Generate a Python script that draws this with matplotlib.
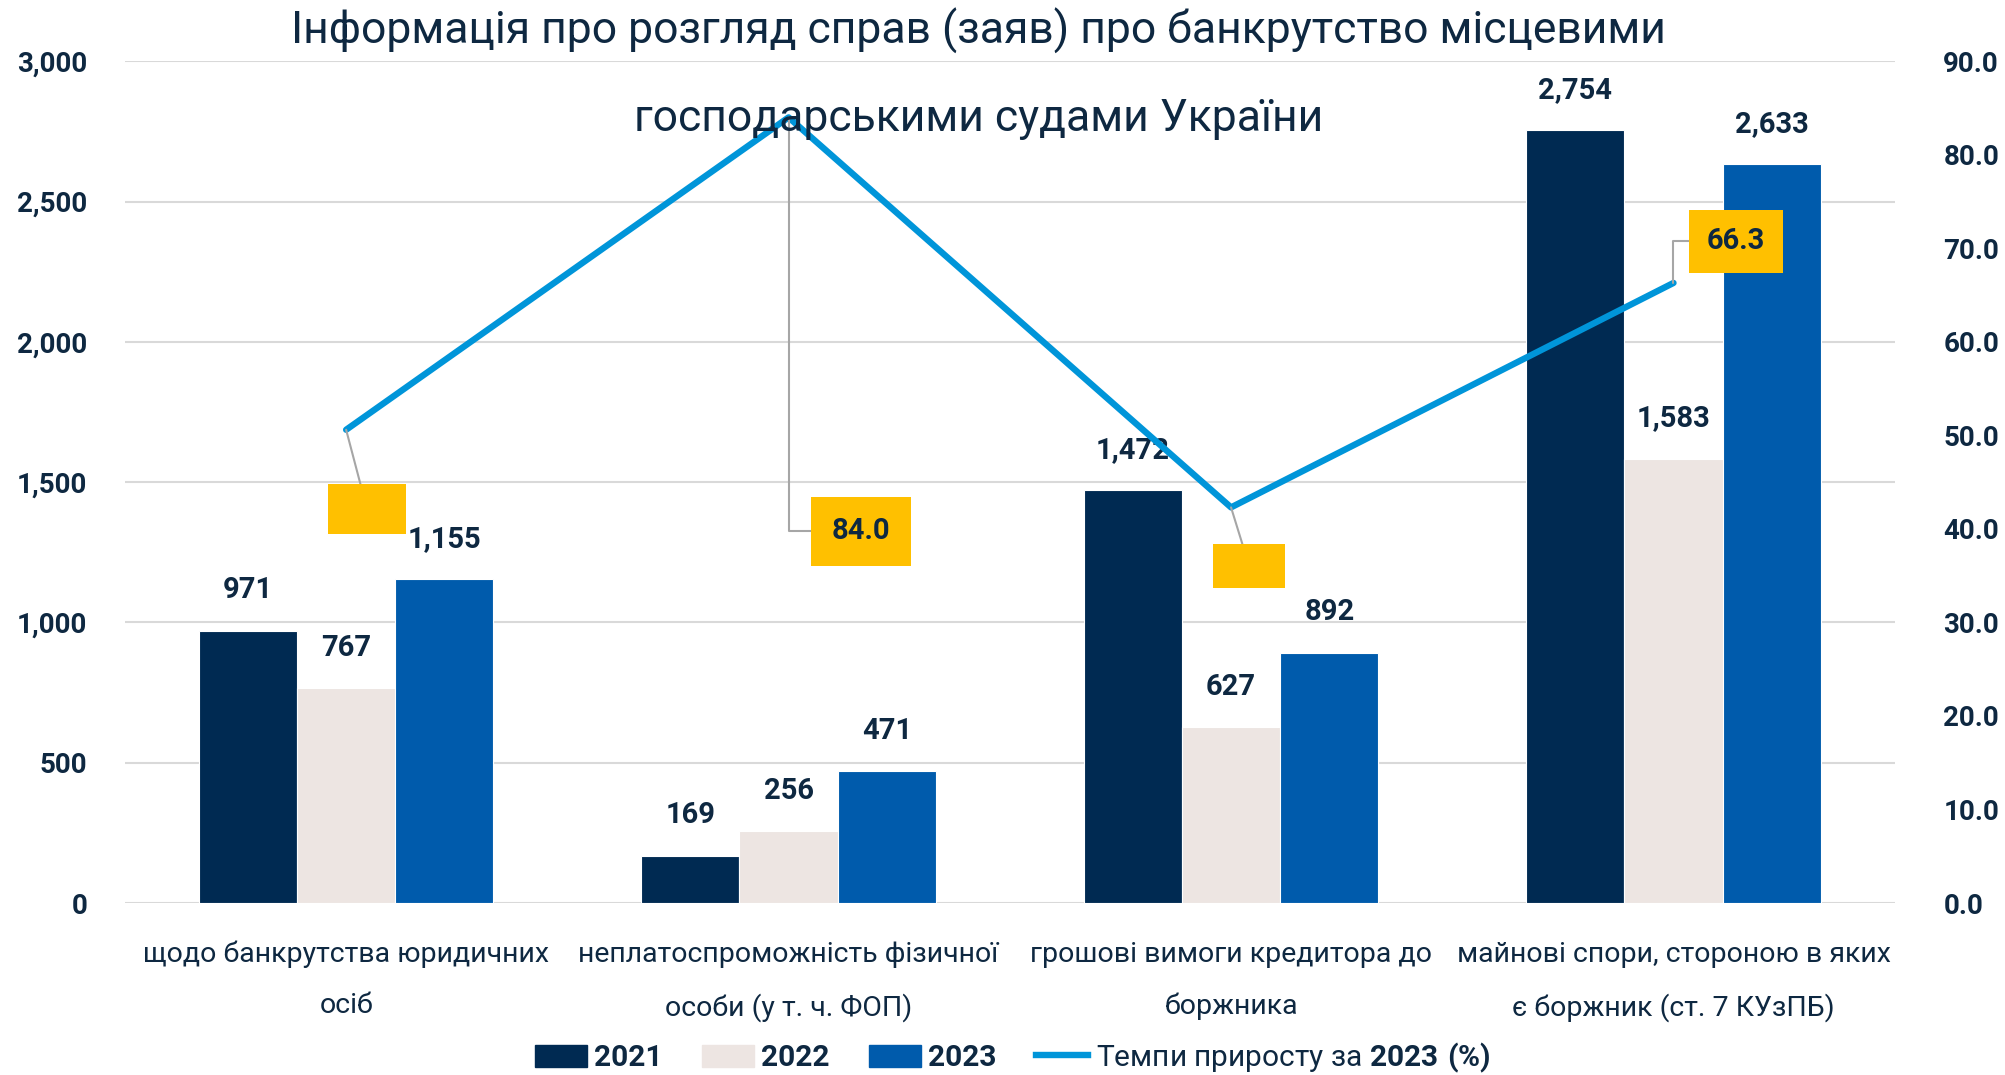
import numpy as np
import matplotlib.pyplot as plt
from matplotlib.ticker import FuncFormatter, MultipleLocator
from matplotlib.patches import Patch
from matplotlib.lines import Line2D

plt.rcParams['font.family'] = ['Roboto', 'DejaVu Sans']
plt.rcParams['mathtext.fontset'] = 'custom'
plt.rcParams['mathtext.bf'] = 'Roboto:bold'
plt.rcParams['mathtext.rm'] = 'Roboto'

# data
categories = ["щодо банкрутства юридичних\nосіб",
              "неплатоспроможність фізичної\nособи (у т. ч. ФОП)",
              "грошові вимоги кредитора до\nборжника",
              "майнові спори, стороною в яких\nє боржник (ст. 7 КУзПБ)"]
v2021 = [971, 169, 1472, 2754]
v2022 = [767, 256, 627, 1583]
v2023 = [1155, 471, 892, 2633]
growth = [50.6, 84.0, 42.3, 66.3]
growth_shown = [False, True, False, True]

navy = '#0E2841'
c21, c22, c23 = '#002A52', '#EDE5E2', '#005BAC'
cline = '#0095D9'
cbox = '#FFC000'

fig = plt.figure(figsize=(20.05, 10.75), dpi=100)
ax = fig.add_axes([0.0623, 0.160, 0.8827, 0.783])

x = np.arange(len(categories))
w = 0.222
series = [(v2021, c21, '2021'), (v2022, c22, '2022'), (v2023, c23, '2023')]
for i, (vals, col, lab) in enumerate(series):
    bars = ax.bar(x + (i - 1) * w, vals, w, color=col, edgecolor='white',
                  linewidth=0.8, label=lab, zorder=2)
    for b, v in zip(bars, vals):
        ax.annotate(f"{v:,}", (b.get_x() + b.get_width() / 2, v),
                    xytext=(0, 29), textcoords='offset points',
                    ha='center', va='center', fontsize=21,
                    fontweight='semibold', color=navy)

ax.set_xlim(-0.5, 3.5)
ax.set_ylim(0, 3000)
ax.yaxis.set_major_locator(MultipleLocator(500))
ax.yaxis.set_major_formatter(FuncFormatter(lambda v, p: f"{int(v):,}"))
ax.grid(axis='y', color='#D9D9D9', linewidth=1.5, zorder=0)
ax.set_axisbelow(True)
for s in ax.spines.values():
    s.set_visible(False)
ax.set_xticks(x)
ax.set_xticklabels(categories, fontsize=20.5, color=navy, linespacing=2.15)
ax.tick_params(axis='x', length=0, pad=27)
ax.tick_params(axis='y', length=0, pad=27, labelsize=20, labelcolor=navy)
for t in ax.get_yticklabels():
    t.set_fontweight('semibold')

ax2 = ax.twinx()
ax2.set_ylim(0, 90)
ax2.yaxis.set_major_locator(MultipleLocator(10))
ax2.yaxis.set_major_formatter(FuncFormatter(lambda v, p: f"{v:.1f}"))
ax2.tick_params(axis='y', length=0, pad=35, labelsize=20, labelcolor=navy)
for t in ax2.get_yticklabels():
    t.set_fontweight('semibold')
for s in ax2.spines.values():
    s.set_visible(False)
ax2.plot(x, growth, color=cline, linewidth=4.6, zorder=3,
         solid_capstyle='round')

# data label boxes with leader lines
offsets = [(15, -57), (52, -298), (13, -42), (45, 30)]
conns = ['arc3', 'angle,angleA=0,angleB=90,rad=0', 'arc3',
         'angle,angleA=0,angleB=90,rad=0']
pads = [0.4, 0.7, 0.3, 0.6]
for xi, g, shown, off, cs, pd in zip(x, growth, growth_shown, offsets, conns, pads):
    ax2.annotate(f"{g:.1f}", (xi, g), xytext=off, textcoords='offset points',
                 ha='center', va='center', fontsize=21 if shown else 20,
                 fontweight='semibold',
                 color=navy if shown else cbox,
                 bbox=dict(boxstyle=f'square,pad={pd}', fc=cbox, ec='none'),
                 arrowprops=dict(arrowstyle='-', color='#A6A6A6', lw=1.5,
                                 connectionstyle=cs, shrinkA=0, shrinkB=0),
                 zorder=4)

fig.text(0.488, 0.971, "Інформація про розгляд справ (заяв) про банкрутство місцевими",
         ha='center', va='center', fontsize=32, color=navy)
fig.text(0.488, 0.889, "господарськими судами України",
         ha='center', va='center', fontsize=32, color=navy)

handles = [Patch(color=c21), Patch(color=c22), Patch(color=c23),
           Line2D([], [], color=cline, linewidth=4.6)]
labels = ['2021', '2022', '2023', r'Темпи приросту за $\mathbf{2023\ (\%)}$']
leg = fig.legend(handles, labels, loc='center', bbox_to_anchor=(0.505, 0.016),
                 ncol=4, frameon=False, fontsize=21.5, handlelength=1.75,
                 handleheight=0.8, columnspacing=1.3, handletextpad=0.25)
for i, t in enumerate(leg.get_texts()):
    t.set_color(navy)
    if i < 3:
        t.set_fontweight('bold')

fig.savefig('out.png', dpi=100)
